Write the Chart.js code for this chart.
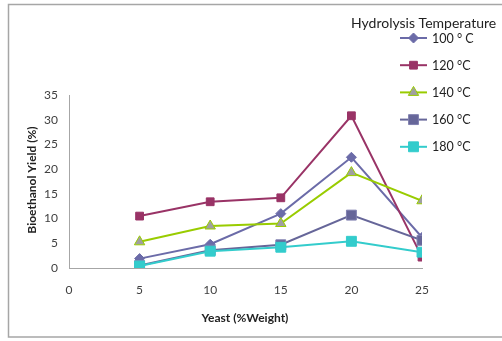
<!DOCTYPE html>
<html>
<head>
<meta charset="utf-8">
<script src="https://cdn.jsdelivr.net/npm/chart.js@4/dist/chart.umd.min.js"></script>
<style>
  html, body { margin: 0; padding: 0; background: #ffffff; }
  #wrap { width: 502px; height: 341px; }
</style>
</head>
<body>
<div id="wrap"><canvas id="c" width="502" height="341"></canvas></div>
<script>
// Yeast loading (% weight) and bioethanol yield (%) per hydrolysis temperature
const yeast = [5, 10, 15, 20, 25];
const yield100 = [1.9, 4.8, 11.0, 22.4, 6.2];
const yield120 = [10.5, 13.4, 14.2, 30.8, 2.2];
const yield140 = [5.3, 8.5, 9.0, 19.3, 13.6];
const yield160 = [0.5, 3.6, 4.7, 10.7, 5.6];
const yield180 = [0.4, 3.4, 4.2, 5.4, 3.2];
const seriesLabels = ['100 ° C', '120 °C', '140 °C', '160 °C', '180 °C'];
const xTicks = [0, 5, 10, 15, 20, 25];
const yTicks = [0, 5, 10, 15, 20, 25, 30, 35];

const pts = arr => yeast.map((x, i) => ({ x: x, y: arr[i] }));

const FONT = 'Lato, "Open Sans", sans-serif';

const styles = [
  { line: '#6b6ba8', fill: '#6b6ba8', border: '#6b6ba8', style: 'rectRot', r: 5 },
  { line: '#993366', fill: '#993366', border: '#993366', style: 'rect', r: 5.5 },
  { line: '#99cc00', fill: '#a0a0a0', border: '#99cc00', style: 'triangle', r: 6 },
  { line: '#666699', fill: '#666699', border: '#8080b0', style: 'rect', r: 7 },
  { line: '#33cccc', fill: '#33cccc', border: '#33cccc', style: 'rect', r: 7 }
];
const allSeries = [yield100, yield120, yield140, yield160, yield180];

const datasets = allSeries.map((arr, i) => ({
  label: seriesLabels[i],
  data: pts(arr),
  borderColor: styles[i].line,
  borderWidth: 2,
  pointStyle: styles[i].style,
  pointRadius: styles[i].r,
  pointHoverRadius: styles[i].r,
  pointBackgroundColor: styles[i].fill,
  pointBorderColor: styles[i].border,
  pointBorderWidth: 1,
  tension: 0,
  order: 5 - i
}));

// Outer frame, axis titles and the legend block
const decor = {
  id: 'decor',
  beforeDraw(chart) {
    const ctx = chart.ctx;
    ctx.save();
    ctx.strokeStyle = '#a6a6a6';
    ctx.lineWidth = 1.5;
    ctx.beginPath();
    ctx.moveTo(502, 4.5);
    ctx.lineTo(8.5, 4.5);
    ctx.lineTo(8.5, 337);
    ctx.lineTo(502, 337);
    ctx.stroke();
    ctx.restore();
  },
  afterDraw(chart) {
    const ctx = chart.ctx;
    ctx.save();
    ctx.fillStyle = '#222222';
    ctx.font = 'bold 12px ' + FONT;
    ctx.textAlign = 'center';
    ctx.textBaseline = 'middle';
    ctx.fillText('Yeast (%Weight)', 245, 318);
    ctx.translate(32, 180);
    ctx.rotate(-Math.PI / 2);
    ctx.fillText('Bioethanol Yield (%)', 0, 0);
    ctx.restore();

    ctx.save();
    ctx.fillStyle = '#222222';
    ctx.font = '14px ' + FONT;
    ctx.textAlign = 'left';
    ctx.textBaseline = 'middle';
    ctx.fillText('Hydrolysis Temperature', 351, 23);
    chart.data.datasets.forEach((ds, i) => {
      const y = 38 + i * 27.2;
      ctx.strokeStyle = ds.borderColor;
      ctx.lineWidth = 2;
      ctx.beginPath();
      ctx.moveTo(400, y);
      ctx.lineTo(427, y);
      ctx.stroke();
      ctx.fillStyle = ds.pointBackgroundColor;
      ctx.strokeStyle = ds.pointBorderColor;
      ctx.lineWidth = 1;
      Chart.helpers.drawPoint(ctx, { pointStyle: ds.pointStyle, radius: ds.pointRadius, rotation: 0, borderWidth: 1 }, 413.5, y);
      ctx.fillStyle = '#222222';
      ctx.font = '12.5px ' + FONT;
      ctx.fillText(ds.label, 432, y + 0.5);
    });
    ctx.restore();
  }
};

new Chart(document.getElementById('c'), {
  type: 'line',
  data: { datasets: datasets },
  plugins: [decor],
  options: {
    responsive: false,
    animation: false,
    events: [],
    layout: { padding: { left: 0, right: 80, top: 95, bottom: 0 } },
    plugins: { legend: { display: false }, tooltip: { enabled: false } },
    scales: {
      x: {
        type: 'linear',
        min: 0,
        max: 25,
        afterBuildTicks(scale) { scale.ticks = xTicks.map(v => ({ value: v })); },
        afterFit(scale) { scale.height = 73; },
        grid: { display: false, drawTicks: false },
        border: { display: true, color: '#a6a6a6', width: 1 },
        ticks: { color: '#404040', font: { family: FONT, size: 12 }, padding: 15, maxRotation: 0 }
      },
      y: {
        min: 0,
        max: 35,
        afterBuildTicks(scale) { scale.ticks = yTicks.map(v => ({ value: v })); },
        afterFit(scale) { scale.width = 69; },
        grid: { display: false, drawTicks: false },
        border: { display: true, color: '#a6a6a6', width: 1 },
        ticks: { color: '#404040', font: { family: FONT, size: 12 }, padding: 11 }
      }
    }
  }
});
</script>
</body>
</html>
